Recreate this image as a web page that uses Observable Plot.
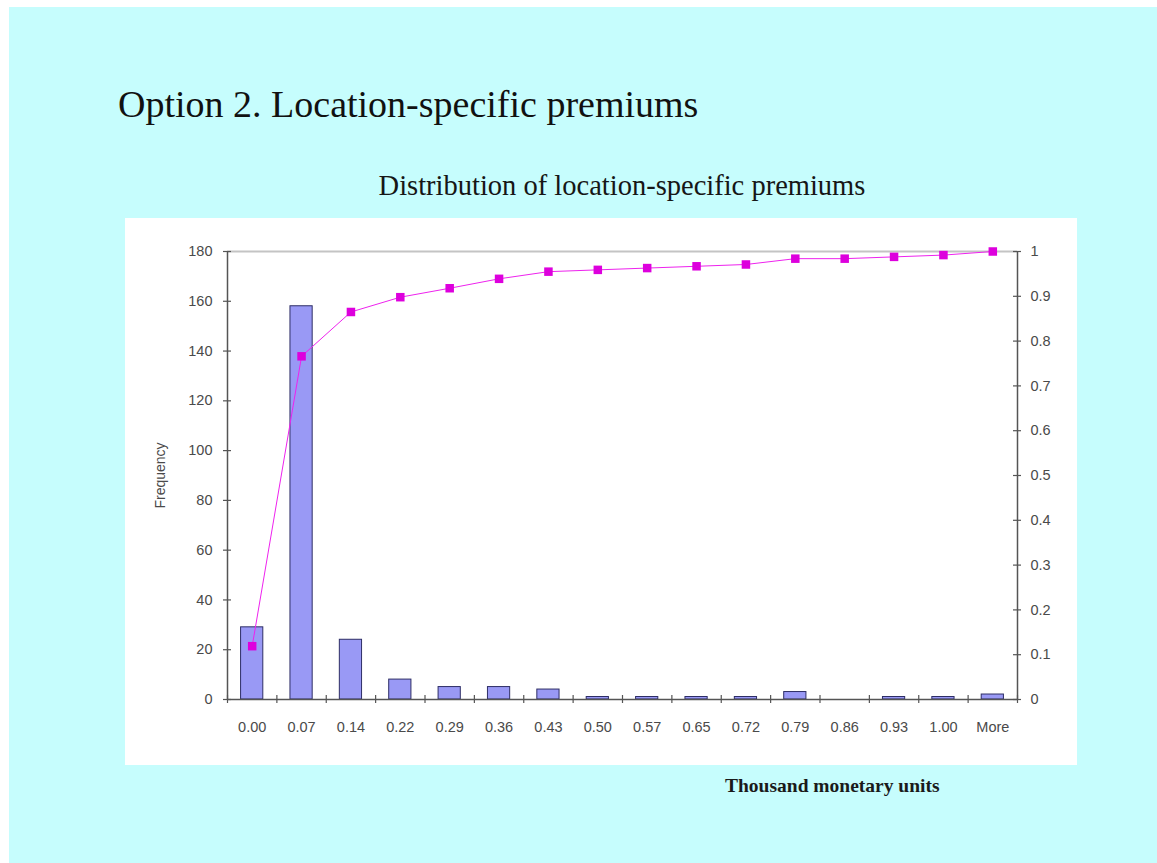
<!DOCTYPE html>
<html>
<head>
<meta charset="utf-8">
<script src="https://cdn.jsdelivr.net/npm/d3@7"></script>
<script src="https://cdn.jsdelivr.net/npm/@observablehq/plot@0.6"></script>
<style>
  html, body { margin: 0; padding: 0; background: #ffffff; width: 1157px; height: 863px; overflow: hidden; }
  #bg { position: absolute; left: 9px; top: 7px; width: 1148px; height: 856px; background: #c6fdfd; }
  #title { position: absolute; left: 118px; top: 82px; font-family: "Liberation Serif", serif; font-size: 38px; line-height: 44px; color: #111111; white-space: nowrap; }
  #subtitle { position: absolute; left: 622px; transform: translateX(-50%); top: 170px; font-family: "Liberation Serif", serif; font-size: 28.5px; line-height: 32px; color: #161616; white-space: nowrap; }
  #panel { position: absolute; left: 125px; top: 218px; width: 952px; height: 547px; background: #ffffff; }
  #caption { position: absolute; left: 725px; top: 775px; font-family: "Liberation Serif", serif; font-weight: bold; font-size: 19.5px; line-height: 22px; color: #1a1a1a; white-space: nowrap; }
</style>
</head>
<body>
<div id="bg"></div>
<div id="title">Option 2. Location-specific premiums</div>
<div id="subtitle">Distribution of location-specific premiums</div>
<div id="panel"></div>
<div id="caption">Thousand monetary units</div>
<script>
// Data
const categories = ["0.00","0.07","0.14","0.22","0.29","0.36","0.43","0.50","0.57","0.65","0.72","0.79","0.86","0.93","1.00","More"];
const frequency  = [29, 158, 24, 8, 5, 5, 4, 1, 1, 1, 1, 3, 0, 1, 1, 2];
const cumulative = [0.119, 0.766, 0.865, 0.898, 0.918, 0.939, 0.955, 0.959, 0.963, 0.967, 0.971, 0.984, 0.984, 0.988, 0.992, 1.0];
const leftTicks  = [0, 20, 40, 60, 80, 100, 120, 140, 160, 180];
const rightTicks = [0, 0.1, 0.2, 0.3, 0.4, 0.5, 0.6, 0.7, 0.8, 0.9, 1];

const yMax = 180;
const rows = categories.map((c, i) => ({i, c, f: frequency[i], cum: cumulative[i]}));
const idx = categories.map((c, i) => i);
const bounds = categories.map((c, i) => i - 0.5).concat([categories.length - 0.5]);
const halfBar = 0.225;
const axisColor = "#555555";
const labelColor = "#4a4a4a";
const font = "Liberation Sans, Arial, sans-serif";

const chart = Plot.plot({
  width: 952,
  height: 547,
  marginLeft: 102,
  marginRight: 60,
  marginTop: 33,
  marginBottom: 66,
  style: {fontFamily: font, fontSize: "14.5px", color: labelColor, background: "transparent"},
  x: {type: "linear", domain: [-0.5, categories.length - 0.5]},
  y: {domain: [0, yMax]},
  marks: [
    // top gray gridline
    Plot.ruleY([yMax], {stroke: "#c4c4c4", strokeWidth: 2}),
    // bars
    Plot.rectY(rows, {x1: d => d.i - halfBar, x2: d => d.i + halfBar, y1: 0, y2: "f", fill: "#9999f5", stroke: "#2e2e66", strokeWidth: 1}),
    // axis lines
    Plot.ruleY([0], {stroke: axisColor, strokeWidth: 1.5}),
    Plot.ruleX([-0.5], {y1: 0, y2: yMax, stroke: axisColor, strokeWidth: 1.5}),
    Plot.ruleX([categories.length - 0.5], {y1: 0, y2: yMax, stroke: axisColor, strokeWidth: 1.5}),
    // crossing ticks on x axis (between categories)
    Plot.ruleX(bounds, {x: d => d, y1: 0, y2: 0, insetTop: -4, insetBottom: -4, stroke: axisColor, strokeWidth: 1.2}),
    // crossing ticks on left axis
    Plot.ruleY(leftTicks, {y: d => d, x1: -0.5, x2: -0.5, insetLeft: -4, insetRight: -4, stroke: axisColor, strokeWidth: 1.2}),
    // crossing ticks on right axis
    Plot.ruleY(rightTicks, {y: d => d * yMax, x1: categories.length - 0.5, x2: categories.length - 0.5, insetLeft: -4, insetRight: -4, stroke: axisColor, strokeWidth: 1.2}),
    // cumulative line + markers
    Plot.line(rows, {x: "i", y: d => d.cum * yMax, stroke: "#ee22ee", strokeWidth: 1}),
    Plot.dot(rows, {x: "i", y: d => d.cum * yMax, symbol: "square", r: 4.8, fill: "#dd00dd", stroke: "none"}),
    // axes
    Plot.axisX({ticks: idx, tickSize: 0, tickPadding: 22, tickFormat: i => categories[i], fill: labelColor, fontSize: 14.5, label: null}),
    Plot.axisY({anchor: "left", ticks: leftTicks, tickSize: 0, tickPadding: 15, fill: labelColor, fontSize: 14.5, label: null}),
    Plot.axisY({anchor: "right", ticks: rightTicks.map(t => t * yMax), tickSize: 0, tickPadding: 13, tickFormat: d => String(+(d / yMax).toFixed(1)), fill: labelColor, fontSize: 14.5, label: null}),
    Plot.text(["Frequency"], {frameAnchor: "left", dx: -67, rotate: -90, textAnchor: "middle", fill: labelColor, fontSize: 14})
  ]
});
document.getElementById("panel").appendChild(chart);
</script>
</body>
</html>
